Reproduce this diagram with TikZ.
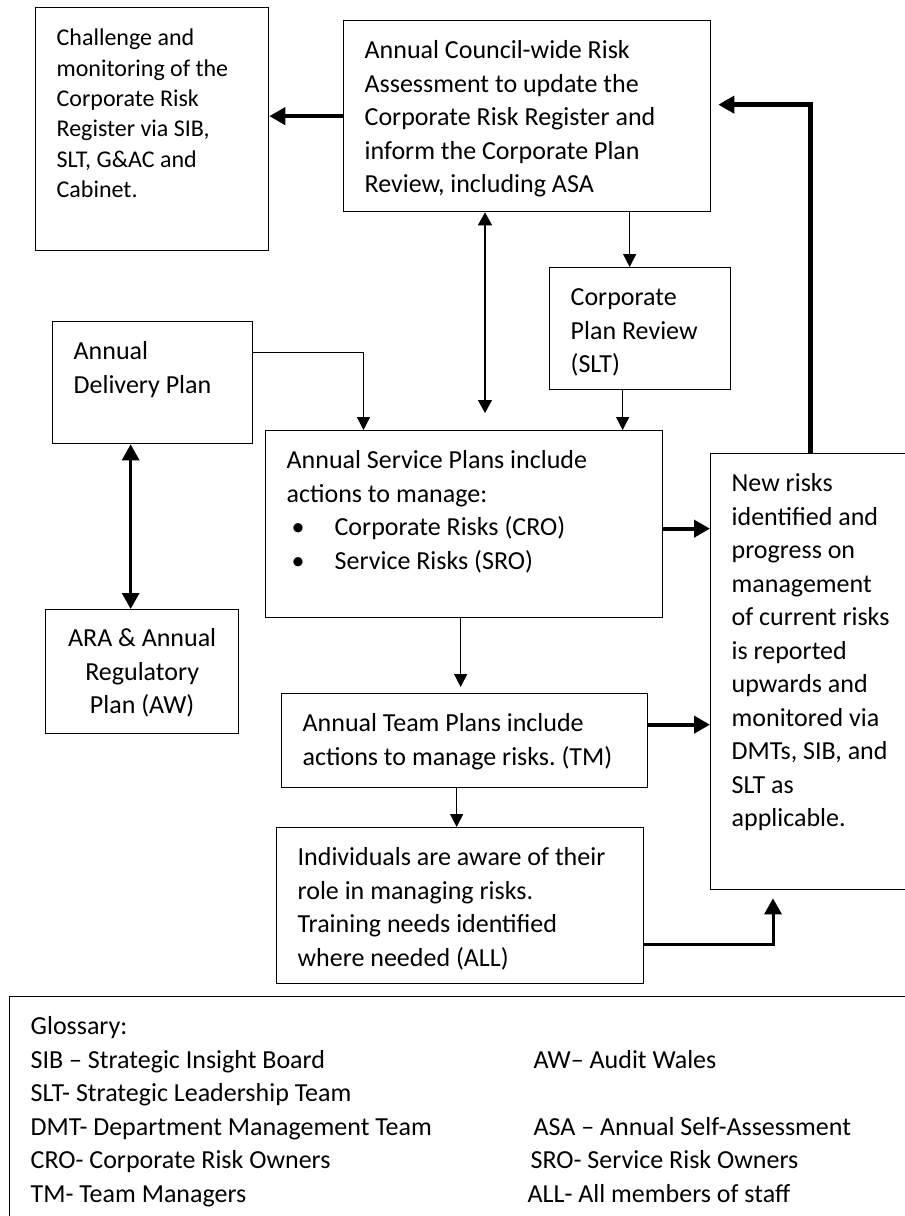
\documentclass[tikz,border=0pt]{standalone}
\usepackage{fontspec}
\setmainfont{Carlito}
\usetikzlibrary{arrows.meta}
\frenchspacing

\newcommand{\boxtext}[3]{\parbox[t][#2][t]{#1}{\raggedright\leftskip=21pt\rule{0pt}{38pt}#3}}
\newcommand{\bulletitem}{\makebox[48pt][l]{\hspace{5pt}•}}

\tikzset{
  box/.style={draw,line width=1.3pt,inner sep=0pt,anchor=north west,
    font=\fontsize{26}{33.5}\selectfont},
  smallarrow/.style={line width=1.3pt,-{Triangle[length=13pt,width=13pt]}},
  smalltwoway/.style={line width=1.3pt,{Triangle[length=13pt,width=14pt]}-{Triangle[length=13pt,width=14pt]}},
  bigarrow/.style={line width=4pt,-{Triangle[length=16pt,width=17pt]}},
  bigtwoway/.style={line width=3pt,{Triangle[length=16pt,width=17pt]}-{Triangle[length=16pt,width=17pt]}},
  midarrow/.style={line width=3pt,-{Triangle[length=16pt,width=17pt]}},
}

\begin{document}
\begin{tikzpicture}[x=1pt,y=-1pt]
\useasboundingbox (0,0) rectangle (905,1216);

% boxes
\node[box,font=\fontsize{24}{30.4}\selectfont] (chal) at (35,7)
  {\boxtext{233pt}{243pt}{Challenge and\\monitoring of the\\Corporate Risk\\Register via SIB,\\SLT, G\&AC and\\Cabinet.}};
\node[box] (council) at (343,20)
  {\boxtext{367pt}{191pt}{Annual Council-wide Risk\\Assessment to update the\\Corporate Risk Register and\\inform the Corporate Plan\\Review, including ASA}};
\node[box] (cpr) at (549,267)
  {\boxtext{181pt}{122pt}{Corporate\\Plan Review\\(SLT)}};
\node[box] (adp) at (52,321)
  {\boxtext{200pt}{122pt}{Annual\\Delivery Plan}};
\node[box] (ara) at (45,609)
  {\parbox[t][124pt][t]{193pt}{\centering\rule{0pt}{37pt}ARA \& Annual\\Regulatory\\Plan (AW)}};
\node[box] (service) at (265,430)
  {\boxtext{397pt}{187pt}{Annual Service Plans include\\actions to manage:\\\bulletitem Corporate Risks (CRO)\\\bulletitem Service Risks (SRO)}};
\node[box] (newrisks) at (710,453)
  {\boxtext{260pt}{436pt}{New risks\\identified and\\progress on\\management\\of current risks\\is reported\\upwards and\\monitored via\\DMTs, SIB, and\\SLT as\\applicable.}};
\node[box] (team) at (281,693)
  {\boxtext{366pt}{94pt}{Annual Team Plans include\\actions to manage risks. (TM)}};
\node[box] (indiv) at (276,827)
  {\boxtext{367pt}{156pt}{Individuals are aware of their\\role in managing risks.\\Training needs identified\\where needed (ALL)}};
\node[box] (gloss) at (9,996)
  {\boxtext{950pt}{260pt}{Glossary:\\
  \makebox[503pt][l]{SIB – Strategic Insight Board}AW– Audit Wales\\
  SLT- Strategic Leadership Team\\
  \makebox[503pt][l]{DMT- Department Management Team}ASA – Annual Self-Assessment\\
  \makebox[500pt][l]{CRO- Corporate Risk Owners}SRO- Service Risk Owners\\
  \makebox[497pt][l]{TM- Team Managers}ALL- All members of staff}};

% connectors
\coordinate (gapend) at (485,413);
\draw[bigarrow] (council.west) -- (council.west -| chal.east);
\draw[smalltwoway] (council.south -| gapend) -- (gapend);
\draw[smallarrow] ([xshift=-10.5pt]cpr.north |- council.south) -- ([xshift=-10.5pt]cpr.north);
\draw[smallarrow] ([xshift=-17.5pt]cpr.south) -- ([xshift=-17.5pt]cpr.south |- service.north);
\draw[smallarrow] ([yshift=30pt]adp.east) -| ([xshift=98.5pt]service.north west);
\draw[bigtwoway] ([xshift=-22pt]adp.south) -- ([xshift=-22pt]adp.south |- ara.north);
\draw[bigarrow] ([yshift=-4.5pt]service.east) -- ([yshift=-4.5pt]service.east -| newrisks.west);
\draw[smallarrow,shorten >=6pt] ([xshift=-3.5pt]service.south) -- ([xshift=-3.5pt]service.south |- team.north);
\draw[bigarrow] ([yshift=16pt]team.east) -- ([yshift=16pt]team.east -| newrisks.west);
\draw[smallarrow] ([xshift=-3.5pt]indiv.north |- team.south) -- ([xshift=-3.5pt]indiv.north);
\draw[midarrow,shorten >=8pt] ([yshift=-39pt]indiv.east) -| ([xshift=63pt]newrisks.south west);
\draw[bigarrow,line width=5pt,shorten >=7pt] ([xshift=100pt]newrisks.north west) |- ([yshift=11.5pt]council.east);
\end{tikzpicture}
\end{document}
